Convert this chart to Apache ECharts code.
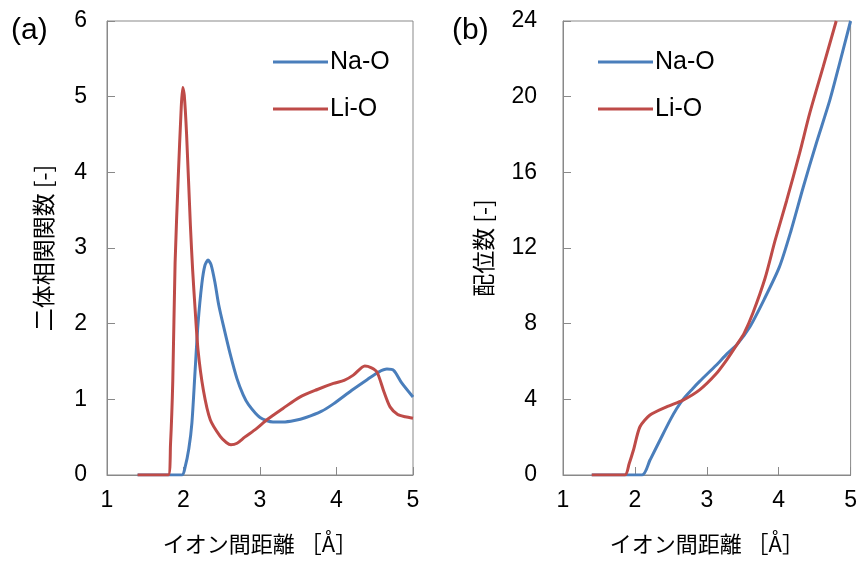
<!DOCTYPE html>
<html>
<head>
<meta charset="utf-8">
<script src="https://cdn.jsdelivr.net/npm/echarts@6/dist/echarts.min.js"></script>
<style>html,body{margin:0;padding:0;background:#fff}#c{width:860px;height:565px}</style>
</head>
<body>
<div id="c"></div>
<script>
// ---- data ----
const seriesNames = ['Na-O', 'Li-O'];
const xTicks = [1, 2, 3, 4, 5];
// (a) pair correlation function g(r)
const naO_g_x = [1.4, 1.98, 2.02, 2.07, 2.11, 2.15, 2.19, 2.24, 2.28, 2.32, 2.36, 2.41, 2.46, 2.52, 2.61, 2.70, 2.78, 2.85, 3.0, 3.17, 3.30, 3.45, 3.6, 3.8, 3.96, 4.2, 4.4, 4.55, 4.66, 4.75, 4.85, 5.0];
const naO_g_y = [0, 0, 0.1, 0.35, 0.69, 1.35, 2.0, 2.53, 2.77, 2.84, 2.78, 2.55, 2.25, 1.98, 1.60, 1.27, 1.06, 0.93, 0.76, 0.70, 0.70, 0.72, 0.76, 0.84, 0.94, 1.12, 1.26, 1.36, 1.40, 1.38, 1.22, 1.03];
const liO_g_x = [1.4, 1.80, 1.83, 1.86, 1.89, 1.93, 1.97, 1.99, 2.01, 2.04, 2.09, 2.12, 2.15, 2.19, 2.26, 2.35, 2.48, 2.56, 2.62, 2.70, 2.8, 2.95, 3.09, 3.3, 3.52, 3.75, 3.96, 4.1, 4.22, 4.37, 4.45, 4.53, 4.62, 4.70, 4.80, 4.9, 5.0];
const liO_g_y = [0, 0, 0.4, 1.25, 2.8, 3.9, 4.85, 5.12, 5.02, 4.51, 3.3, 2.7, 2.22, 1.65, 1.12, 0.73, 0.51, 0.43, 0.40, 0.42, 0.50, 0.61, 0.73, 0.88, 1.03, 1.13, 1.21, 1.25, 1.32, 1.44, 1.42, 1.36, 1.1, 0.90, 0.80, 0.77, 0.75];
// (b) coordination number N(r)
const naO_n_x = [1.4, 2.10, 2.21, 2.35, 2.49, 2.58, 2.67, 2.80, 2.9, 3.13, 3.28, 3.42, 3.6, 3.8, 4.01, 4.17, 4.34, 4.52, 4.71, 4.85, 5.0];
const naO_n_y = [0, 0, 0.79, 1.85, 2.9, 3.5, 4.0, 4.55, 4.95, 5.8, 6.4, 6.9, 7.84, 9.3, 11.0, 12.9, 15.2, 17.5, 19.8, 21.8, 24];
const liO_n_x = [1.4, 1.86, 1.92, 1.98, 2.07, 2.21, 2.44, 2.67, 2.9, 3.13, 3.28, 3.42, 3.52, 3.64, 3.81, 3.95, 4.11, 4.29, 4.43, 4.62, 4.8];
const liO_n_y = [0, 0, 0.6, 1.32, 2.55, 3.17, 3.6, 3.96, 4.5, 5.35, 6.1, 6.9, 7.5, 8.55, 10.4, 12.4, 14.5, 17.0, 19.1, 21.6, 24.0];

const zip = (xs, ys) => xs.map((x, i) => [x, ys[i]]);
const BLUE = '#4a7ebb', RED = '#be4b48', AXIS = '#898989';
const NUM = 'Liberation Sans, Arial, sans-serif';
const JP = 'Noto Sans CJK JP, sans-serif';

const chart = echarts.init(document.getElementById('c'), null, {renderer: 'canvas'});

function xAxis(gi) {
  return {
    type: 'value', gridIndex: gi, min: 1, max: 5, interval: 1,
    name: 'イオン間距離 ［Å］', nameLocation: 'middle', nameGap: 58,
    nameTextStyle: {fontFamily: JP, fontSize: 22, color: '#000'},
    axisLine: {show: true, lineStyle: {color: AXIS, width: 1}},
    axisTick: {show: true, inside: true, length: 8, lineStyle: {color: AXIS}},
    axisLabel: {fontFamily: NUM, fontSize: 23, color: '#000', margin: 14,
      formatter: v => xTicks.includes(v) ? String(v) : ''},
    splitLine: {show: false}
  };
}
function yAxis(gi, max, interval, name, gap, margin) {
  return {
    type: 'value', gridIndex: gi, min: 0, max: max, interval: interval,
    name: name, nameLocation: 'middle', nameGap: gap, nameRotate: 90,
    nameTextStyle: {fontFamily: JP, fontSize: 23, color: '#000'},
    axisLine: {show: true, lineStyle: {color: AXIS, width: 1}},
    axisTick: {show: true, inside: true, length: 8, lineStyle: {color: AXIS}},
    axisLabel: {fontFamily: NUM, fontSize: 23, color: '#000', margin: margin},
    splitLine: {show: false}
  };
}
function line(name, data, color, xi, yi) {
  return {
    name: name, type: 'line', xAxisIndex: xi, yAxisIndex: yi, data: data,
    symbol: 'none', smooth: 0.25,
    lineStyle: {color: color, width: 3}, itemStyle: {color: color},
    clip: true, animation: false
  };
}
function legend(left) {
  return {
    data: seriesNames, orient: 'vertical', left: left, top: 49, padding: 0,
    itemWidth: 55, itemHeight: 14, itemGap: 21, icon: 'path://M0,6H55V9H0Z',
    textStyle: {fontFamily: NUM, fontSize: 25, color: '#000', lineHeight: 26, padding: [0, 0, 0, -3]},
    selectedMode: false
  };
}

chart.setOption({
  animation: false,
  grid: [
    {left: 107, top: 21, width: 306, height: 454, show: true, borderColor: AXIS, borderWidth: 1, backgroundColor: 'transparent'},
    {left: 563, top: 21, width: 288, height: 454, show: true, borderColor: AXIS, borderWidth: 1, backgroundColor: 'transparent'}
  ],
  xAxis: [xAxis(0), xAxis(1)],
  yAxis: [yAxis(0, 6, 1, '二体相関関数 [-]', 52, 20), yAxis(1, 24, 4, '配位数 [-]', 68, 26)],
  legend: [legend(273), legend(598)],
  series: [
    line('Na-O', zip(naO_g_x, naO_g_y), BLUE, 0, 0),
    line('Li-O', zip(liO_g_x, liO_g_y), RED, 0, 0),
    line('Na-O', zip(naO_n_x, naO_n_y), BLUE, 1, 1),
    line('Li-O', zip(liO_n_x, liO_n_y), RED, 1, 1)
  ],
  graphic: [
    {type: 'text', left: 11, top: 16, style: {text: '(a)', fontFamily: NUM, fontSize: 30, fill: '#000'}},
    {type: 'text', left: 452, top: 16, style: {text: '(b)', fontFamily: NUM, fontSize: 30, fill: '#000'}}
  ]
});
</script>
</body>
</html>
